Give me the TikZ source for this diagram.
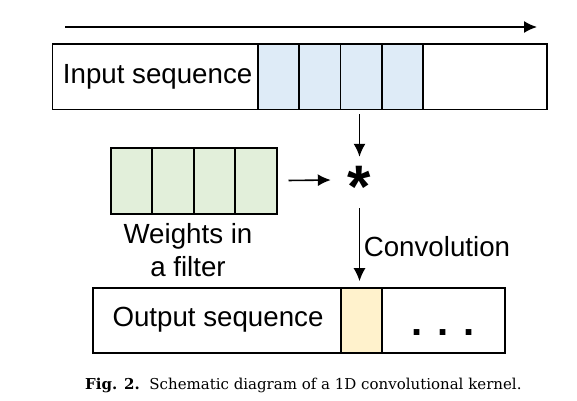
\documentclass[tikz,border=0pt]{standalone}
\usepackage{fontspec}
\usetikzlibrary{arrows.meta}
\newfontfamily\arialfont{Liberation Sans}
\newfontfamily\capfont{DejaVu Serif}
\definecolor{cellblue}{HTML}{DEEBF7}
\definecolor{cellgreen}{HTML}{E2EFDA}
\definecolor{cellyellow}{HTML}{FFF2CC}
\begin{document}
\begin{tikzpicture}[x=1pt,y=-1pt,
    box/.style={draw,line width=1.8pt,inner sep=0pt,anchor=north west},
    cell/.style={box,minimum width=41.3pt},
    arr/.style={line width=1.6pt,-{Latex[length=13pt,width=12pt]}},
    lbl/.style={font=\arialfont\fontsize{27.7}{33.4}\selectfont,inner sep=0pt}]
  \useasboundingbox (0,0) rectangle (577,400);
  % sliding direction
  \coordinate (slidestart) at (65,27);
  \coordinate (slideend) at (537,27);
  \draw[arr] (slidestart) -- (slideend);
  % input sequence with the window
  \node[box,minimum width=494.5pt,minimum height=65.5pt] (inbox) at (51.5,43) {};
  \foreach \i in {0,...,3}
    \node[cell,fill=cellblue,minimum height=65.5pt] (win\i) at (257+41.3*\i,43) {};
  \node[lbl,anchor=base west] (intext) at (62.7,83.3) {Input sequence};
  % filter weights
  \node[box,minimum width=165.7pt,minimum height=66pt] (filter) at (110,146.7) {};
  \foreach \i in {0,...,3}
    \node[cell,fill=cellgreen,minimum width=41.4pt,minimum height=66pt] (w\i) at (110+41.4*\i,146.7) {};
  \node[lbl,anchor=base,align=center] (wtext) at (188,276.7) {Weights in\\a filter};
  % convolution operator
  \node[inner sep=0pt,minimum width=57pt,minimum height=46pt,
    font=\arialfont\bfseries\fontsize{60}{60}\selectfont] (star) at (359.5,180)
    {\raisebox{-0.46em}[0pt][0pt]{*}};
  % output sequence
  \node[box,minimum width=412.6pt,minimum height=65pt] (outbox) at (91.7,286.7) {};
  \node[cell,fill=cellyellow,minimum width=41pt,minimum height=65pt] (out0) at (340,286.7) {};
  \node[lbl,anchor=base west] (outtext) at (112.3,326.7) {Output sequence};
  \node[lbl,anchor=base,font=\arialfont\bfseries\fontsize{40}{40}\selectfont] (dots) at (443,335.5) {. . .};
  % connectors
  \draw[arr,shorten <=4pt] (inbox.south -| star) -- (star.north);
  \draw[arr,shorten <=11pt] (filter.east) -- (star.west);
  \draw[arr,shorten <=5pt,shorten >=5.5pt] (star.south) -- (outbox.north -| star)
    node[lbl,pos=0.5,anchor=base west,xshift=3.5pt,yshift=-12pt] (convtext) {Convolution};
  % caption
  \node[anchor=base west,inner sep=0pt,font=\capfont\fontsize{15}{18}\selectfont] (caption) at (85,389)
    {\textbf{Fig. 2.}\ \ Schematic diagram of a 1D convolutional kernel.};
\end{tikzpicture}
\end{document}
